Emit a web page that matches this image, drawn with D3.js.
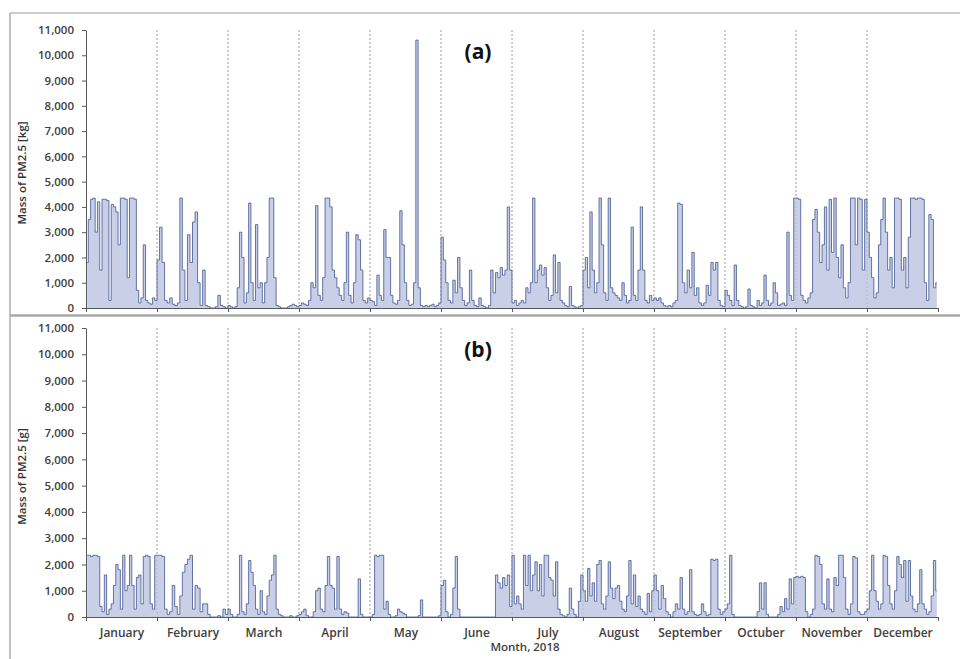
<!DOCTYPE html>
<html>
<head>
<meta charset="utf-8">
<script src="https://cdn.jsdelivr.net/npm/d3@7"></script>
<style>
  body { margin: 0; background: #fff; }
  svg text { font-family: 'Open Sans', 'Liberation Sans', sans-serif; }
  .tick text { fill: #404040; font-weight: 600; }
  .domain, .tick line { stroke: #595959; }
</style>
</head>
<body>
<div id="chart"></div>
<script>
// month categories (the source spells October as "Octuber")
const months = ['January', 'February', 'March', 'April', 'May', 'June', 'July', 'August', 'September', 'Octuber', 'November', 'December']
const yTicks = [0, 1000, 2000, 3000, 4000, 5000, 6000, 7000, 8000, 9000, 10000, 11000]

// (a) daily mass of PM2.5 [kg], one array per month
const massKgJan = [1800, 3500, 4300, 4350, 3000, 4200, 1500, 4300, 4300, 4250, 300, 4100, 4000, 3800, 2500, 4350, 4350, 4300, 1200, 4350, 4350, 4300, 700, 200, 400, 2500, 300, 200, 150, 400, 300]
const massKgFeb = [1900, 3200, 1800, 300, 200, 400, 150, 100, 200, 4350, 1500, 300, 2900, 1800, 3400, 3800, 1000, 100, 1500, 100, 50, 0, 0, 50, 500, 100, 50, 0]
const massKgMar = [100, 50, 0, 50, 800, 3000, 2000, 200, 600, 4150, 1000, 300, 3300, 800, 1000, 200, 1000, 2000, 4350, 4350, 1200, 100, 50, 0, 0, 0, 50, 100, 150, 100, 50]
const massKgApr = [100, 200, 150, 100, 300, 1000, 800, 4050, 500, 300, 1200, 4350, 4350, 4000, 1500, 1200, 800, 500, 300, 1000, 3000, 500, 200, 1000, 2900, 2700, 1500, 300, 200, 400]
const massKgMay = [300, 250, 100, 1300, 500, 300, 3100, 2000, 2000, 500, 200, 150, 300, 3850, 2500, 1000, 300, 100, 150, 1000, 10600, 800, 100, 50, 100, 50, 100, 150, 50, 100, 200]
const massKgJun = [2800, 1900, 1000, 300, 200, 1100, 600, 2000, 800, 300, 100, 200, 1500, 300, 100, 50, 400, 100, 50, 0, 100, 1500, 600, 1400, 1200, 1600, 1300, 1500, 4000, 1500]
const massKgJul = [200, 300, 100, 200, 300, 200, 800, 600, 1000, 4350, 1000, 1500, 1700, 1300, 1600, 800, 300, 500, 2100, 600, 1800, 300, 200, 100, 50, 850, 100, 50, 0, 50, 100]
const massKgAug = [1500, 2000, 800, 3800, 1500, 600, 1000, 4350, 2500, 600, 300, 4350, 800, 600, 500, 400, 300, 1000, 500, 200, 300, 3200, 500, 300, 1500, 4000, 1500, 300, 200, 500, 300]
const massKgSep = [400, 300, 400, 200, 100, 50, 100, 50, 200, 300, 4150, 4100, 1000, 600, 1500, 800, 2200, 500, 800, 200, 100, 200, 900, 500, 1800, 1500, 1800, 300, 100, 50]
const massKgOct = [700, 500, 300, 100, 1700, 300, 100, 50, 0, 50, 750, 100, 50, 0, 300, 100, 200, 1300, 300, 100, 200, 1000, 600, 100, 150, 200, 100, 3000, 500, 300, 4350]
const massKgNov = [4350, 4300, 500, 300, 200, 400, 600, 3500, 3900, 3000, 1800, 2500, 4000, 1500, 4300, 2200, 4350, 2000, 1200, 2500, 800, 400, 1000, 4350, 4350, 2500, 4350, 4300, 1500, 4300]
const massKgDec = [3000, 2000, 1200, 400, 600, 2500, 3500, 4350, 3000, 1500, 2000, 800, 4350, 4350, 4300, 1500, 2000, 800, 2800, 4350, 4350, 4300, 4350, 4350, 4300, 1000, 300, 3700, 3500, 800, 1000]

// (b) daily mass of PM2.5 [g]
const massGJan = [2350, 2350, 2300, 2350, 2350, 2300, 400, 200, 1600, 100, 300, 500, 1200, 2000, 1800, 300, 2350, 1000, 1200, 2350, 1200, 300, 1500, 1600, 500, 2300, 2350, 2300, 500, 300, 2350]
const massGFeb = [2350, 2350, 2300, 300, 100, 200, 1200, 400, 100, 800, 1700, 2000, 2200, 2350, 300, 1200, 1100, 200, 500, 500, 100, 0, 0, 0, 50, 0, 300, 100]
const massGMar = [300, 100, 0, 0, 100, 2350, 200, 100, 500, 2150, 1700, 1200, 300, 100, 1000, 200, 100, 800, 1400, 1600, 2350, 300, 100, 50, 0, 0, 0, 50, 0, 0, 50]
const massGApr = [100, 200, 300, 50, 0, 0, 200, 1000, 1100, 300, 200, 1200, 2300, 1200, 1100, 300, 2300, 300, 100, 200, 150, 0, 0, 0, 0, 1450, 100, 0, 0, 0]
const massGMay = [0, 100, 2350, 2300, 2350, 2350, 300, 600, 100, 0, 0, 50, 300, 200, 150, 100, 0, 0, 0, 0, 0, 50, 650, 0, 0, 0, 0, 0, 0, 0, 50]
const massGJun = [1200, 1400, 200, 0, 100, 1100, 2300, 300, 0, 0, 0, 0, 0, 0, 0, 0, 0, 0, 0, 0, 0, 0, 0, 1600, 1300, 1100, 1500, 1200, 1600, 400]
const massGJul = [2350, 500, 800, 500, 300, 2350, 1200, 2350, 1000, 1600, 2100, 1000, 2000, 800, 2350, 2350, 1500, 1400, 800, 2100, 300, 100, 50, 0, 100, 1100, 300, 100, 0, 600, 1600]
const massGAug = [1000, 600, 1850, 800, 1300, 600, 2000, 2150, 500, 300, 800, 2100, 1100, 700, 1100, 1200, 600, 300, 200, 800, 2150, 500, 1600, 400, 800, 300, 200, 100, 900, 200, 1000]
const massGSep = [1600, 1000, 300, 1200, 700, 200, 100, 0, 200, 500, 300, 1500, 300, 100, 200, 1800, 200, 100, 50, 100, 500, 200, 50, 100, 2200, 2150, 2200, 300, 100, 200]
const massGOct = [300, 500, 2350, 100, 0, 0, 0, 0, 0, 0, 0, 0, 0, 0, 200, 1300, 300, 1300, 100, 0, 0, 0, 0, 100, 400, 200, 700, 300, 1450, 500, 1500]
const massGNov = [1550, 1500, 1550, 1500, 200, 0, 100, 300, 2350, 2300, 2000, 500, 300, 1450, 300, 200, 1500, 1200, 2350, 2350, 1500, 300, 100, 500, 2300, 2250, 200, 100, 100, 200]
const massGDec = [300, 1000, 2350, 1000, 600, 300, 500, 2350, 2300, 1200, 500, 300, 1000, 2300, 2000, 1500, 2150, 600, 2150, 800, 300, 200, 500, 1800, 500, 300, 100, 200, 800, 2150, 1000]

const seriesKg = [massKgJan, massKgFeb, massKgMar, massKgApr, massKgMay, massKgJun, massKgJul, massKgAug, massKgSep, massKgOct, massKgNov, massKgDec]
const seriesG = [massGJan, massGFeb, massGMar, massGApr, massGMay, massGJun, massGJul, massGAug, massGSep, massGOct, massGNov, massGDec]

const width = 960
const height = 659
const left = 86
const right = 938

const svg = d3.select('#chart').append('svg')
  .attr('width', width)
  .attr('height', height)

// frame lines of the original figure
svg.append('line').attr('x1', 10).attr('x2', width).attr('y1', 13).attr('y2', 13)
  .attr('stroke', '#9a9a9a').attr('stroke-width', 1.2)
svg.append('line').attr('x1', 10).attr('x2', 10).attr('y1', 13).attr('y2', height)
  .attr('stroke', '#9a9a9a').attr('stroke-width', 1.2)
svg.append('line').attr('x1', 10).attr('x2', width).attr('y1', 315.5).attr('y2', 315.5)
  .attr('stroke', '#a8a8a8').attr('stroke-width', 2.5)

// x runs in month units, every month gets the same width
const x = d3.scaleLinear().domain([0, 12]).range([left, right])

function toPoints (series) {
  let pts = []
  series.forEach((days, m) => {
    days.forEach((v, i) => pts.push({t: m + (i + 0.5) / days.length, v}))
  })
  return pts
}

function drawPanel (series, top, bottom, yLabel, tag, showMonths) {
  const y = d3.scaleLinear().domain([0, 11000]).range([bottom, top])
  const g = svg.append('g')

  // dotted month separators
  g.selectAll('.sep').data(d3.range(1, 12)).enter().append('line')
    .attr('class', 'sep')
    .attr('x1', d => x(d)).attr('x2', d => x(d))
    .attr('y1', top).attr('y2', bottom)
    .attr('stroke', '#9c9c9c').attr('stroke-width', 1)
    .attr('stroke-dasharray', '2,2')

  const pts = toPoints(series)
  const area = d3.area().curve(d3.curveStep).x(d => x(d.t)).y0(bottom).y1(d => y(d.v))
  const line = d3.line().curve(d3.curveStep).x(d => x(d.t)).y(d => y(d.v))

  g.append('path').datum(pts)
    .attr('d', area)
    .attr('fill', '#bac3e0')
    .attr('fill-opacity', 0.8)
  g.append('path').datum(pts)
    .attr('d', line)
    .attr('fill', 'none')
    .attr('stroke', '#42558f')
    .attr('stroke-width', 0.8)

  const yAxis = g.append('g')
    .attr('transform', `translate(${left},0)`)
    .call(d3.axisLeft(y).tickValues(yTicks).tickFormat(d3.format(',')).tickSize(4).tickPadding(8).tickSizeOuter(0))
  yAxis.selectAll('text').style('font-size', '11.5px')

  g.append('g')
    .attr('transform', `translate(0,${bottom})`)
    .call(d3.axisBottom(x).tickValues(d3.range(13)).tickFormat('').tickSize(4).tickSizeOuter(0))

  if (showMonths) {
    const mAxis = g.append('g')
      .attr('transform', `translate(0,${bottom})`)
      .call(d3.axisBottom(x).tickValues(d3.range(12).map(m => m + 0.5))
        .tickFormat((d, i) => months[i]).tickSize(0).tickPadding(11))
    mAxis.select('.domain').remove()
    mAxis.selectAll('text').style('font-size', '12px')
  }

  g.append('text')
    .attr('transform', `translate(22,${(top + bottom) / 2 + 4}) rotate(-90)`)
    .attr('text-anchor', 'middle')
    .attr('dy', '0.35em')
    .style('font-size', '11.5px')
    .style('font-weight', 600)
    .attr('fill', '#333')
    .text(yLabel)

  g.append('text')
    .attr('x', 478).attr('y', top + 29)
    .attr('text-anchor', 'middle')
    .style('font-size', '21px')
    .style('font-weight', 700)
    .attr('fill', '#111')
    .text(tag)
}

drawPanel(seriesKg, 30, 308, 'Mass of PM2.5 [kg]', '(a)', false)
drawPanel(seriesG, 328, 617, 'Mass of PM2.5 [g]', '(b)', true)

svg.append('text')
  .attr('x', 525).attr('y', 651)
  .attr('text-anchor', 'middle')
  .style('font-size', '11.5px')
  .style('font-weight', 600)
  .attr('fill', '#404040')
  .text('Month, 2018')
</script>
</body>
</html>
